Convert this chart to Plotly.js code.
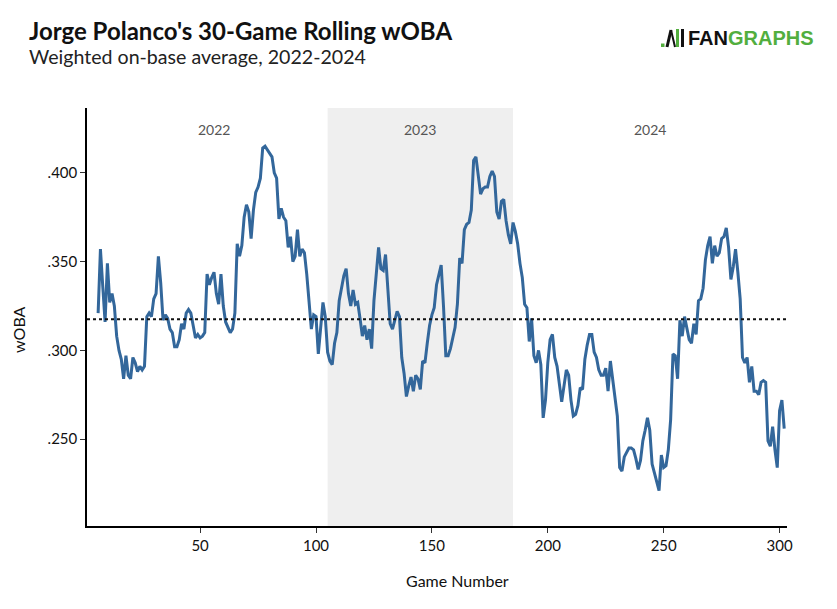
<!DOCTYPE html>
<html>
<head>
<meta charset="utf-8">
<script src="https://cdn.plot.ly/plotly-3.0.1.min.js"></script>
<style>
  html, body { margin: 0; padding: 0; background: #fff; }
  #chart { width: 837px; height: 609px; }
</style>
</head>
<body>
<div id="chart"></div>
<script>
// 30-game rolling wOBA, one value per game starting at game 6
var firstGame = 6;
var woba = [
    .321, .357, .336, .316, .349, .327, .332, .325, .308, .300,
    .295, .284, .297, .286, .284, .296, .293, .288, .291, .289,
    .291, .319, .321, .319, .329, .332, .353, .338, .317, .320,
    .318, .312, .310, .302, .302, .306, .315, .312, .321, .323,
    .321, .313, .307, .309, .307, .308, .310, .343, .337, .341,
    .344, .332, .326, .343, .325, .316, .313, .310, .312, .321,
    .360, .353, .359, .375, .382, .378, .363, .379, .389, .392,
    .397, .414, .415, .413, .411, .409, .400, .397, .374, .380,
    .375, .373, .358, .364, .350, .353, .368, .353, .357, .355,
    .343, .328, .312, .320, .319, .298, .313, .327, .319, .299,
    .294, .292, .304, .310, .328, .336, .342, .346, .332, .325,
    .334, .326, .327, .318, .308, .314, .306, .312, .301, .328,
    .345, .358, .346, .345, .354, .336, .315, .312, .317, .322,
    .319, .296, .287, .274, .280, .285, .277, .286, .284, .278,
    .294, .293, .304, .314, .320, .324, .337, .343, .348, .325,
    .297, .297, .301, .307, .313, .326, .352, .349, .368, .371,
    .372, .379, .407, .409, .399, .388, .391, .392, .392, .398,
    .401, .398, .378, .374, .384, .385, .373, .365, .360, .372,
    .367, .360, .349, .341, .326, .324, .305, .318, .297, .293,
    .300, .292, .262, .272, .293, .306, .309, .296, .291, .281,
    .271, .280, .289, .286, .272, .263, .264, .269, .279, .278,
    .295, .303, .309, .309, .299, .296, .289, .286, .286, .290,
    .277, .294, .283, .274, .263, .234, .232, .240, .243, .245,
    .245, .244, .239, .233, .238, .249, .255, .262, .255, .236,
    .231, .225, .221, .241, .234, .235, .244, .261, .298, .297,
    .284, .317, .308, .319, .313, .306, .304, .315, .309, .328,
    .329, .335, .351, .359, .364, .349, .359, .353, .355, .363,
    .364, .369, .358, .340, .347, .357, .344, .329, .296, .293,
    .296, .282, .291, .277, .277, .275, .282, .283, .282, .249,
    .246, .257, .244, .234, .266, .272, .256
];

var seasons = ['2022', '2023', '2024'];
var seasonLabelGame = [56, 145, 244];
var season2023Start = 105;
var season2023End = 185;
var averageWoba = 0.3175;

var yTickVals = [0.25, 0.30, 0.35, 0.40];
var yTickText = ['.250', '.300', '.350', '.400'];
var xTickVals = [50, 100, 150, 200, 250, 300];

var games = woba.map(function(v, i) { return firstGame + i; });

// plot area in pixels, used to place the header, axis titles and logo in paper coords
var plotLeft = 87, plotRight = 787, plotTop = 108, plotBottom = 526;
function pxX(px) { return (px - plotLeft) / (plotRight - plotLeft); }
function pxY(py) { return (plotBottom - py) / (plotBottom - plotTop); }

var green = '#52ae3e';

var plotlyData = [
    {
        x: games,
        y: woba,
        type: 'scatter',
        mode: 'lines',
        line: { color: '#33679b', width: 3 },
        hoverinfo: 'x+y'
    }
];

var shapes = [
    {
        type: 'rect', layer: 'below',
        xref: 'x', yref: 'paper',
        x0: season2023Start, x1: season2023End, y0: 0, y1: 1,
        fillcolor: '#efefef', line: { width: 0 }
    },
    {
        type: 'line', layer: 'above',
        xref: 'paper', yref: 'y',
        x0: 0, x1: 1, y0: averageWoba, y1: averageWoba,
        line: { color: '#111', width: 2, dash: 'dot' }
    },
    // logo mark: green dot, batter, two bars
    { type: 'rect', xref: 'paper', yref: 'paper', x0: pxX(661), x1: pxX(664.5), y0: pxY(47), y1: pxY(43.5),
      fillcolor: green, line: { width: 0 } },
    { type: 'line', xref: 'paper', yref: 'paper', x0: pxX(667), x1: pxX(671), y0: pxY(47), y1: pxY(30),
      line: { color: '#111', width: 3 } },
    { type: 'line', xref: 'paper', yref: 'paper', x0: pxX(671), x1: pxX(675), y0: pxY(30), y1: pxY(47),
      line: { color: '#111', width: 2 } },
    { type: 'rect', xref: 'paper', yref: 'paper', x0: pxX(676), x1: pxX(679), y0: pxY(47), y1: pxY(29),
      fillcolor: green, line: { width: 0 } },
    { type: 'rect', xref: 'paper', yref: 'paper', x0: pxX(681), x1: pxX(684), y0: pxY(47), y1: pxY(29),
      fillcolor: '#111', line: { width: 0 } }
];

var annotations = [
    {
        xref: 'paper', yref: 'paper', x: pxX(27), y: pxY(30),
        xanchor: 'left', yanchor: 'middle', showarrow: false,
        text: "<b>Jorge Polanco's 30-Game Rolling wOBA</b>",
        font: { family: 'Lato, sans-serif', size: 24, color: '#111' }
    },
    {
        xref: 'paper', yref: 'paper', x: pxX(27), y: pxY(56),
        xanchor: 'left', yanchor: 'middle', showarrow: false,
        text: 'Weighted on-base average, 2022-2024',
        font: { family: 'Lato, sans-serif', size: 19.6, color: '#222' }
    },
    {
        xref: 'paper', yref: 'paper', x: pxX(686), y: pxY(38),
        xanchor: 'left', yanchor: 'middle', showarrow: false,
        text: '<b><span style="color:#111">FAN</span>GRAPHS</b>',
        font: { family: 'Liberation Sans, Arial, sans-serif', size: 20, color: green }
    },
    {
        xref: 'paper', yref: 'paper', x: pxX(457), y: pxY(580),
        xanchor: 'center', yanchor: 'middle', showarrow: false,
        text: 'Game Number',
        font: { family: 'Lato, sans-serif', size: 16, color: '#111' }
    },
    {
        xref: 'paper', yref: 'paper', x: pxX(18), y: pxY(330),
        xanchor: 'center', yanchor: 'middle', showarrow: false,
        textangle: -90,
        text: 'wOBA',
        font: { family: 'Lato, sans-serif', size: 16, color: '#111' }
    }
];

seasons.forEach(function(s, i) {
    annotations.push({
        xref: 'x', yref: 'paper', x: seasonLabelGame[i], y: pxY(129),
        xanchor: 'center', yanchor: 'middle', showarrow: false,
        text: s,
        font: { family: 'Lato, sans-serif', size: 14, color: '#555' }
    });
});

var plotlyLayout = {
    width: 837,
    height: 609,
    margin: { l: plotLeft, r: 837 - plotRight, t: plotTop, b: 609 - plotBottom },
    paper_bgcolor: '#fff',
    plot_bgcolor: '#fff',
    showlegend: false,
    font: { family: 'Lato, sans-serif', size: 15, color: '#111' },
    xaxis: {
        range: [1.2, 303.2],
        tickvals: xTickVals,
        showgrid: false,
        zeroline: false,
        showline: true,
        linecolor: '#000',
        linewidth: 1.5,
        ticks: 'outside',
        ticklen: 5,
        tickcolor: '#333',
        tickfont: { size: 15 }
    },
    yaxis: {
        range: [0.2011, 0.4365],
        tickvals: yTickVals,
        ticktext: yTickText,
        showgrid: false,
        zeroline: false,
        showline: true,
        linecolor: '#000',
        linewidth: 1.5,
        ticks: 'outside',
        ticklen: 5,
        tickcolor: '#333',
        tickfont: { size: 15 }
    },
    shapes: shapes,
    annotations: annotations
};

var plotlyConfig = {
    displayModeBar: false,
    responsive: false
};

Plotly.newPlot('chart', plotlyData, plotlyLayout, plotlyConfig);
</script>
</body>
</html>
